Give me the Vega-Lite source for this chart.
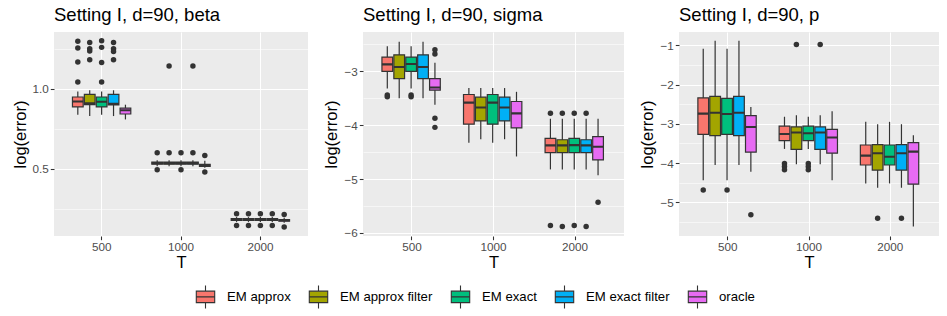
{
  "$schema": "https://vega.github.io/schema/vega-lite/v6.json",
  "padding": {"left": 12, "top": 5, "right": 0, "bottom": 0},
  "background": "#FFFFFF",
  "spacing": 15,
  "datasets": {
    "stats": [
      {"panel": "beta", "T": "500", "method": "EM approx", "lower": 0.837, "q1": 0.886, "median": 0.92, "q3": 0.948, "upper": 0.983},
      {"panel": "beta", "T": "500", "method": "EM approx filter", "lower": 0.829, "q1": 0.9, "median": 0.908, "q3": 0.965, "upper": 0.99},
      {"panel": "beta", "T": "500", "method": "EM exact", "lower": 0.837, "q1": 0.886, "median": 0.918, "q3": 0.948, "upper": 0.983},
      {"panel": "beta", "T": "500", "method": "EM exact filter", "lower": 0.829, "q1": 0.898, "median": 0.905, "q3": 0.965, "upper": 0.99},
      {"panel": "beta", "T": "500", "method": "oracle", "lower": 0.808, "q1": 0.842, "median": 0.865, "q3": 0.879, "upper": 0.9},
      {"panel": "beta", "T": "1000", "method": "EM approx", "lower": 0.515, "q1": 0.529, "median": 0.535, "q3": 0.541, "upper": 0.553},
      {"panel": "beta", "T": "1000", "method": "EM approx filter", "lower": 0.515, "q1": 0.529, "median": 0.535, "q3": 0.541, "upper": 0.553},
      {"panel": "beta", "T": "1000", "method": "EM exact", "lower": 0.515, "q1": 0.529, "median": 0.535, "q3": 0.541, "upper": 0.553},
      {"panel": "beta", "T": "1000", "method": "EM exact filter", "lower": 0.515, "q1": 0.529, "median": 0.535, "q3": 0.541, "upper": 0.553},
      {"panel": "beta", "T": "1000", "method": "oracle", "lower": 0.506, "q1": 0.515, "median": 0.521, "q3": 0.527, "upper": 0.55},
      {"panel": "beta", "T": "2000", "method": "EM approx", "lower": 0.168, "q1": 0.178, "median": 0.183, "q3": 0.188, "upper": 0.198},
      {"panel": "beta", "T": "2000", "method": "EM approx filter", "lower": 0.168, "q1": 0.178, "median": 0.183, "q3": 0.188, "upper": 0.198},
      {"panel": "beta", "T": "2000", "method": "EM exact", "lower": 0.168, "q1": 0.178, "median": 0.183, "q3": 0.188, "upper": 0.198},
      {"panel": "beta", "T": "2000", "method": "EM exact filter", "lower": 0.168, "q1": 0.178, "median": 0.183, "q3": 0.188, "upper": 0.198},
      {"panel": "beta", "T": "2000", "method": "oracle", "lower": 0.162, "q1": 0.172, "median": 0.178, "q3": 0.183, "upper": 0.194},

      {"panel": "sigma", "T": "500", "method": "EM approx", "lower": -3.317, "q1": -3.0, "median": -2.87, "q3": -2.736, "upper": -2.535},
      {"panel": "sigma", "T": "500", "method": "EM approx filter", "lower": -3.5, "q1": -3.134, "median": -2.92, "q3": -2.694, "upper": -2.45},
      {"panel": "sigma", "T": "500", "method": "EM exact", "lower": -3.317, "q1": -3.0, "median": -2.865, "q3": -2.736, "upper": -2.535},
      {"panel": "sigma", "T": "500", "method": "EM exact filter", "lower": -3.5, "q1": -3.134, "median": -2.92, "q3": -2.694, "upper": -2.45},
      {"panel": "sigma", "T": "500", "method": "oracle", "lower": -3.62, "q1": -3.35, "median": -3.3, "q3": -3.134, "upper": -2.84},
      {"panel": "sigma", "T": "1000", "method": "EM approx", "lower": -4.325, "q1": -3.98, "median": -3.58, "q3": -3.43, "upper": -3.31},
      {"panel": "sigma", "T": "1000", "method": "EM approx filter", "lower": -4.26, "q1": -3.92, "median": -3.67, "q3": -3.48, "upper": -3.31},
      {"panel": "sigma", "T": "1000", "method": "EM exact", "lower": -4.325, "q1": -3.98, "median": -3.58, "q3": -3.43, "upper": -3.31},
      {"panel": "sigma", "T": "1000", "method": "EM exact filter", "lower": -4.26, "q1": -3.92, "median": -3.67, "q3": -3.48, "upper": -3.31},
      {"panel": "sigma", "T": "1000", "method": "oracle", "lower": -4.58, "q1": -4.05, "median": -3.78, "q3": -3.56, "upper": -3.38},
      {"panel": "sigma", "T": "2000", "method": "EM approx", "lower": -4.82, "q1": -4.51, "median": -4.375, "q3": -4.245, "upper": -3.88},
      {"panel": "sigma", "T": "2000", "method": "EM approx filter", "lower": -4.82, "q1": -4.51, "median": -4.375, "q3": -4.27, "upper": -3.88},
      {"panel": "sigma", "T": "2000", "method": "EM exact", "lower": -4.82, "q1": -4.51, "median": -4.37, "q3": -4.245, "upper": -3.88},
      {"panel": "sigma", "T": "2000", "method": "EM exact filter", "lower": -4.82, "q1": -4.51, "median": -4.375, "q3": -4.27, "upper": -3.88},
      {"panel": "sigma", "T": "2000", "method": "oracle", "lower": -4.93, "q1": -4.645, "median": -4.4, "q3": -4.21, "upper": -3.88},

      {"panel": "p", "T": "500", "method": "EM approx", "lower": -4.44, "q1": -3.27, "median": -2.74, "q3": -2.34, "upper": -1.085},
      {"panel": "p", "T": "500", "method": "EM approx filter", "lower": -4.05, "q1": -3.3, "median": -2.72, "q3": -2.3, "upper": -0.88},
      {"panel": "p", "T": "500", "method": "EM exact", "lower": -4.44, "q1": -3.27, "median": -2.75, "q3": -2.35, "upper": -1.085},
      {"panel": "p", "T": "500", "method": "EM exact filter", "lower": -4.05, "q1": -3.3, "median": -2.72, "q3": -2.3, "upper": -0.88},
      {"panel": "p", "T": "500", "method": "oracle", "lower": -4.22, "q1": -3.72, "median": -3.08, "q3": -2.79, "upper": -2.57},
      {"panel": "p", "T": "1000", "method": "EM approx", "lower": -3.64, "q1": -3.43, "median": -3.26, "q3": -3.06, "upper": -2.82},
      {"panel": "p", "T": "1000", "method": "EM approx filter", "lower": -4.03, "q1": -3.65, "median": -3.22, "q3": -3.08, "upper": -2.78},
      {"panel": "p", "T": "1000", "method": "EM exact", "lower": -3.64, "q1": -3.43, "median": -3.24, "q3": -3.06, "upper": -2.82},
      {"panel": "p", "T": "1000", "method": "EM exact filter", "lower": -4.03, "q1": -3.65, "median": -3.22, "q3": -3.08, "upper": -2.78},
      {"panel": "p", "T": "1000", "method": "oracle", "lower": -4.44, "q1": -3.75, "median": -3.35, "q3": -3.14, "upper": -2.68},
      {"panel": "p", "T": "2000", "method": "EM approx", "lower": -4.52, "q1": -4.05, "median": -3.81, "q3": -3.54, "upper": -2.95},
      {"panel": "p", "T": "2000", "method": "EM approx filter", "lower": -4.63, "q1": -4.18, "median": -3.75, "q3": -3.53, "upper": -3.01},
      {"panel": "p", "T": "2000", "method": "EM exact", "lower": -4.52, "q1": -4.05, "median": -3.84, "q3": -3.54, "upper": -2.95},
      {"panel": "p", "T": "2000", "method": "EM exact filter", "lower": -4.63, "q1": -4.18, "median": -3.75, "q3": -3.53, "upper": -3.01},
      {"panel": "p", "T": "2000", "method": "oracle", "lower": -5.62, "q1": -4.54, "median": -3.71, "q3": -3.48, "upper": -3.29}
    ],
    "outliers": [
      {"panel": "beta", "T": "500", "method": "EM approx", "value": 1.296},
      {"panel": "beta", "T": "500", "method": "EM approx", "value": 1.254},
      {"panel": "beta", "T": "500", "method": "EM approx", "value": 1.167},
      {"panel": "beta", "T": "500", "method": "EM approx", "value": 1.042},
      {"panel": "beta", "T": "500", "method": "EM approx filter", "value": 1.288},
      {"panel": "beta", "T": "500", "method": "EM approx filter", "value": 1.25},
      {"panel": "beta", "T": "500", "method": "EM approx filter", "value": 1.235},
      {"panel": "beta", "T": "500", "method": "EM approx filter", "value": 1.18},
      {"panel": "beta", "T": "500", "method": "EM exact", "value": 1.3},
      {"panel": "beta", "T": "500", "method": "EM exact", "value": 1.258},
      {"panel": "beta", "T": "500", "method": "EM exact", "value": 1.163},
      {"panel": "beta", "T": "500", "method": "EM exact", "value": 1.042},
      {"panel": "beta", "T": "500", "method": "EM exact filter", "value": 1.288},
      {"panel": "beta", "T": "500", "method": "EM exact filter", "value": 1.25},
      {"panel": "beta", "T": "500", "method": "EM exact filter", "value": 1.232},
      {"panel": "beta", "T": "500", "method": "EM exact filter", "value": 1.18},
      {"panel": "beta", "T": "1000", "method": "EM approx", "value": 0.6},
      {"panel": "beta", "T": "1000", "method": "EM approx", "value": 0.494},
      {"panel": "beta", "T": "1000", "method": "EM approx filter", "value": 0.6},
      {"panel": "beta", "T": "1000", "method": "EM approx filter", "value": 1.142},
      {"panel": "beta", "T": "1000", "method": "EM exact", "value": 0.6},
      {"panel": "beta", "T": "1000", "method": "EM exact", "value": 0.494},
      {"panel": "beta", "T": "1000", "method": "EM exact filter", "value": 0.6},
      {"panel": "beta", "T": "1000", "method": "EM exact filter", "value": 1.142},
      {"panel": "beta", "T": "1000", "method": "oracle", "value": 0.583},
      {"panel": "beta", "T": "1000", "method": "oracle", "value": 0.479},
      {"panel": "beta", "T": "2000", "method": "EM approx", "value": 0.219},
      {"panel": "beta", "T": "2000", "method": "EM approx", "value": 0.146},
      {"panel": "beta", "T": "2000", "method": "EM approx filter", "value": 0.219},
      {"panel": "beta", "T": "2000", "method": "EM approx filter", "value": 0.146},
      {"panel": "beta", "T": "2000", "method": "EM exact", "value": 0.219},
      {"panel": "beta", "T": "2000", "method": "EM exact", "value": 0.146},
      {"panel": "beta", "T": "2000", "method": "EM exact filter", "value": 0.219},
      {"panel": "beta", "T": "2000", "method": "EM exact filter", "value": 0.146},
      {"panel": "beta", "T": "2000", "method": "oracle", "value": 0.214},
      {"panel": "beta", "T": "2000", "method": "oracle", "value": 0.136},

      {"panel": "sigma", "T": "500", "method": "EM approx", "value": -3.44},
      {"panel": "sigma", "T": "500", "method": "EM approx", "value": -3.47},
      {"panel": "sigma", "T": "500", "method": "EM exact", "value": -3.44},
      {"panel": "sigma", "T": "500", "method": "EM exact", "value": -3.47},
      {"panel": "sigma", "T": "500", "method": "oracle", "value": -2.6},
      {"panel": "sigma", "T": "500", "method": "oracle", "value": -2.68},
      {"panel": "sigma", "T": "500", "method": "oracle", "value": -3.87},
      {"panel": "sigma", "T": "500", "method": "oracle", "value": -4.04},
      {"panel": "sigma", "T": "2000", "method": "EM approx", "value": -3.78},
      {"panel": "sigma", "T": "2000", "method": "EM approx", "value": -5.86},
      {"panel": "sigma", "T": "2000", "method": "EM approx filter", "value": -3.78},
      {"panel": "sigma", "T": "2000", "method": "EM approx filter", "value": -5.88},
      {"panel": "sigma", "T": "2000", "method": "EM exact", "value": -3.78},
      {"panel": "sigma", "T": "2000", "method": "EM exact", "value": -5.86},
      {"panel": "sigma", "T": "2000", "method": "EM exact filter", "value": -3.78},
      {"panel": "sigma", "T": "2000", "method": "EM exact filter", "value": -5.88},
      {"panel": "sigma", "T": "2000", "method": "oracle", "value": -5.43},

      {"panel": "p", "T": "500", "method": "EM approx", "value": -4.69},
      {"panel": "p", "T": "500", "method": "EM exact", "value": -4.69},
      {"panel": "p", "T": "500", "method": "oracle", "value": -5.32},
      {"panel": "p", "T": "1000", "method": "EM approx", "value": -4.01},
      {"panel": "p", "T": "1000", "method": "EM approx", "value": -4.09},
      {"panel": "p", "T": "1000", "method": "EM approx", "value": -4.17},
      {"panel": "p", "T": "1000", "method": "EM approx filter", "value": -0.98},
      {"panel": "p", "T": "1000", "method": "EM exact", "value": -4.01},
      {"panel": "p", "T": "1000", "method": "EM exact", "value": -4.09},
      {"panel": "p", "T": "1000", "method": "EM exact", "value": -4.17},
      {"panel": "p", "T": "1000", "method": "EM exact filter", "value": -0.98},
      {"panel": "p", "T": "2000", "method": "EM approx filter", "value": -5.41},
      {"panel": "p", "T": "2000", "method": "EM exact filter", "value": -5.41}
    ]
  },
  "hconcat": [
    {
      "width": 254, "height": 204,
      "title": {"text": "Setting I, d=90, beta"},
      "layer": [
        {
          "data": {"name": "stats"},
          "transform": [{"filter": "datum.panel === 'beta'"}],
          "mark": {"type": "rule", "color": "#333333", "strokeWidth": 1.2},
          "encoding": {
            "x": {"field": "T", "type": "nominal", "sort": ["500", "1000", "2000"], "scale": {"paddingInner": 0.25, "paddingOuter": 0.225}, "axis": {"title": "T", "labelAngle": 0, "grid": true, "bandPosition": 0.5}},
            "xOffset": {"field": "method", "type": "nominal", "sort": ["EM approx", "EM approx filter", "EM exact", "EM exact filter", "oracle"], "scale": {"paddingInner": 0.1, "paddingOuter": 0.05}},
            "y": {"field": "lower", "type": "quantitative", "scale": {"domain": [0.08, 1.354], "nice": false, "zero": false}, "axis": {"title": "log(error)", "values": [0.5, 1.0], "format": ".1f"}},
            "y2": {"field": "upper"}
          }
        },
        {
          "data": {"name": "stats"},
          "transform": [{"filter": "datum.panel === 'beta'"}],
          "mark": {"type": "bar", "stroke": "#333333", "strokeWidth": 1.2},
          "encoding": {
            "x": {"field": "T", "type": "nominal", "sort": ["500", "1000", "2000"]},
            "xOffset": {"field": "method", "type": "nominal", "sort": ["EM approx", "EM approx filter", "EM exact", "EM exact filter", "oracle"]},
            "y": {"field": "q1", "type": "quantitative", "axis": null},
            "y2": {"field": "q3"},
            "color": {"field": "method", "type": "nominal", "scale": {"domain": ["EM approx", "EM approx filter", "EM exact", "EM exact filter", "oracle"], "range": ["#F8766D", "#A3A500", "#00BF7D", "#00B0F6", "#E76BF3"]}, "legend": {"orient": "none", "legendX": 139, "legendY": 252, "direction": "horizontal", "title": null}}
          }
        },
        {
          "data": {"name": "stats"},
          "transform": [{"filter": "datum.panel === 'beta'"}],
          "mark": {"type": "bar", "fill": "#333333", "stroke": "#333333", "strokeWidth": 2.1},
          "encoding": {
            "x": {"field": "T", "type": "nominal", "sort": ["500", "1000", "2000"]},
            "xOffset": {"field": "method", "type": "nominal", "sort": ["EM approx", "EM approx filter", "EM exact", "EM exact filter", "oracle"]},
            "y": {"field": "median", "type": "quantitative", "axis": {"orient": "left", "values": [0.25, 0.75, 1.25], "labels": false, "ticks": false, "domain": false, "title": null, "grid": true, "gridWidth": 0.55}},
            "y2": {"field": "median"}
          }
        },
        {
          "data": {"name": "outliers"},
          "transform": [{"filter": "datum.panel === 'beta'"}],
          "mark": {"type": "point", "filled": true, "color": "#333333", "size": 30, "opacity": 1},
          "encoding": {
            "x": {"field": "T", "type": "nominal", "sort": ["500", "1000", "2000"]},
            "xOffset": {"field": "method", "type": "nominal", "sort": ["EM approx", "EM approx filter", "EM exact", "EM exact filter", "oracle"]},
            "y": {"field": "value", "type": "quantitative", "axis": null}
          }
        }
      ],
      "resolve": {"axis": {"y": "independent"}}
    },
    {
      "width": 261, "height": 204,
      "title": {"text": "Setting I, d=90, sigma"},
      "layer": [
        {
          "data": {"name": "stats"},
          "transform": [{"filter": "datum.panel === 'sigma'"}],
          "mark": {"type": "rule", "color": "#333333", "strokeWidth": 1.2},
          "encoding": {
            "x": {"field": "T", "type": "nominal", "sort": ["500", "1000", "2000"], "scale": {"paddingInner": 0.25, "paddingOuter": 0.225}, "axis": {"title": "T", "labelAngle": 0, "grid": true, "bandPosition": 0.5}},
            "xOffset": {"field": "method", "type": "nominal", "sort": ["EM approx", "EM approx filter", "EM exact", "EM exact filter", "oracle"], "scale": {"paddingInner": 0.1, "paddingOuter": 0.05}},
            "y": {"field": "lower", "type": "quantitative", "scale": {"domain": [-6.056, -2.27], "nice": false, "zero": false}, "axis": {"title": "log(error)", "values": [-6, -5, -4, -3], "format": "d"}},
            "y2": {"field": "upper"}
          }
        },
        {
          "data": {"name": "stats"},
          "transform": [{"filter": "datum.panel === 'sigma'"}],
          "mark": {"type": "bar", "stroke": "#333333", "strokeWidth": 1.2},
          "encoding": {
            "x": {"field": "T", "type": "nominal", "sort": ["500", "1000", "2000"]},
            "xOffset": {"field": "method", "type": "nominal", "sort": ["EM approx", "EM approx filter", "EM exact", "EM exact filter", "oracle"]},
            "y": {"field": "q1", "type": "quantitative", "axis": null},
            "y2": {"field": "q3"},
            "color": {"field": "method", "type": "nominal", "scale": {"domain": ["EM approx", "EM approx filter", "EM exact", "EM exact filter", "oracle"], "range": ["#F8766D", "#A3A500", "#00BF7D", "#00B0F6", "#E76BF3"]}, "legend": {"orient": "none", "legendX": 139, "legendY": 252, "direction": "horizontal", "title": null}}
          }
        },
        {
          "data": {"name": "stats"},
          "transform": [{"filter": "datum.panel === 'sigma'"}],
          "mark": {"type": "bar", "fill": "#333333", "stroke": "#333333", "strokeWidth": 2.1},
          "encoding": {
            "x": {"field": "T", "type": "nominal", "sort": ["500", "1000", "2000"]},
            "xOffset": {"field": "method", "type": "nominal", "sort": ["EM approx", "EM approx filter", "EM exact", "EM exact filter", "oracle"]},
            "y": {"field": "median", "type": "quantitative", "axis": {"orient": "left", "values": [-5.5, -4.5, -3.5, -2.5], "labels": false, "ticks": false, "domain": false, "title": null, "grid": true, "gridWidth": 0.55}},
            "y2": {"field": "median"}
          }
        },
        {
          "data": {"name": "outliers"},
          "transform": [{"filter": "datum.panel === 'sigma'"}],
          "mark": {"type": "point", "filled": true, "color": "#333333", "size": 30, "opacity": 1},
          "encoding": {
            "x": {"field": "T", "type": "nominal", "sort": ["500", "1000", "2000"]},
            "xOffset": {"field": "method", "type": "nominal", "sort": ["EM approx", "EM approx filter", "EM exact", "EM exact filter", "oracle"]},
            "y": {"field": "value", "type": "quantitative", "axis": null}
          }
        }
      ],
      "resolve": {"axis": {"y": "independent"}}
    },
    {
      "width": 260, "height": 204,
      "title": {"text": "Setting I, d=90, p"},
      "layer": [
        {
          "data": {"name": "stats"},
          "transform": [{"filter": "datum.panel === 'p'"}],
          "mark": {"type": "rule", "color": "#333333", "strokeWidth": 1.2},
          "encoding": {
            "x": {"field": "T", "type": "nominal", "sort": ["500", "1000", "2000"], "scale": {"paddingInner": 0.25, "paddingOuter": 0.225}, "axis": {"title": "T", "labelAngle": 0, "grid": true, "bandPosition": 0.5}},
            "xOffset": {"field": "method", "type": "nominal", "sort": ["EM approx", "EM approx filter", "EM exact", "EM exact filter", "oracle"], "scale": {"paddingInner": 0.1, "paddingOuter": 0.05}},
            "y": {"field": "lower", "type": "quantitative", "scale": {"domain": [-5.86, -0.66], "nice": false, "zero": false}, "axis": {"title": "log(error)", "values": [-5, -4, -3, -2, -1], "format": "d"}},
            "y2": {"field": "upper"}
          }
        },
        {
          "data": {"name": "stats"},
          "transform": [{"filter": "datum.panel === 'p'"}],
          "mark": {"type": "bar", "stroke": "#333333", "strokeWidth": 1.2},
          "encoding": {
            "x": {"field": "T", "type": "nominal", "sort": ["500", "1000", "2000"]},
            "xOffset": {"field": "method", "type": "nominal", "sort": ["EM approx", "EM approx filter", "EM exact", "EM exact filter", "oracle"]},
            "y": {"field": "q1", "type": "quantitative", "axis": null},
            "y2": {"field": "q3"},
            "color": {"field": "method", "type": "nominal", "scale": {"domain": ["EM approx", "EM approx filter", "EM exact", "EM exact filter", "oracle"], "range": ["#F8766D", "#A3A500", "#00BF7D", "#00B0F6", "#E76BF3"]}, "legend": {"orient": "none", "legendX": 139, "legendY": 252, "direction": "horizontal", "title": null}}
          }
        },
        {
          "data": {"name": "stats"},
          "transform": [{"filter": "datum.panel === 'p'"}],
          "mark": {"type": "bar", "fill": "#333333", "stroke": "#333333", "strokeWidth": 2.1},
          "encoding": {
            "x": {"field": "T", "type": "nominal", "sort": ["500", "1000", "2000"]},
            "xOffset": {"field": "method", "type": "nominal", "sort": ["EM approx", "EM approx filter", "EM exact", "EM exact filter", "oracle"]},
            "y": {"field": "median", "type": "quantitative", "axis": {"orient": "left", "values": [-5.5, -4.5, -3.5, -2.5, -1.5], "labels": false, "ticks": false, "domain": false, "title": null, "grid": true, "gridWidth": 0.55}},
            "y2": {"field": "median"}
          }
        },
        {
          "data": {"name": "outliers"},
          "transform": [{"filter": "datum.panel === 'p'"}],
          "mark": {"type": "point", "filled": true, "color": "#333333", "size": 30, "opacity": 1},
          "encoding": {
            "x": {"field": "T", "type": "nominal", "sort": ["500", "1000", "2000"]},
            "xOffset": {"field": "method", "type": "nominal", "sort": ["EM approx", "EM approx filter", "EM exact", "EM exact filter", "oracle"]},
            "y": {"field": "value", "type": "quantitative", "axis": null}
          }
        }
      ],
      "resolve": {"axis": {"y": "independent"}}
    }
  ],
  "resolve": {"scale": {"color": "shared"}, "legend": {"color": "shared"}},
  "config": {
    "font": "Liberation Sans",
    "view": {"fill": "#EBEBEB", "stroke": null},
    "title": {"anchor": "start", "frame": "group", "fontSize": 18.5, "fontWeight": "normal", "color": "#000000", "offset": 8},
    "axis": {"labelFontSize": 11.7, "labelColor": "#4D4D4D", "tickColor": "#333333", "tickSize": 3.7, "tickWidth": 1.07, "domain": false, "titleFontSize": 16.5, "titleFontWeight": "normal", "titleColor": "#000000", "gridColor": "#FFFFFF", "gridWidth": 1.1, "labelPadding": 2},
    "axisY": {"titlePadding": 4},
    "axisX": {"titlePadding": 1},
    "legend": {"symbolType": "M-0.8,-0.5H0.8V0.5H-0.8Z M-0.8,0H0.8 M0,-0.5V-1 M0,0.5V1", "symbolSize": 529, "symbolStrokeColor": "#333333", "symbolStrokeWidth": 1.1, "symbolOpacity": 1, "labelFontSize": 13.2, "labelColor": "#000000", "labelOffset": 9, "columnPadding": 15, "padding": 0}
  }
}
